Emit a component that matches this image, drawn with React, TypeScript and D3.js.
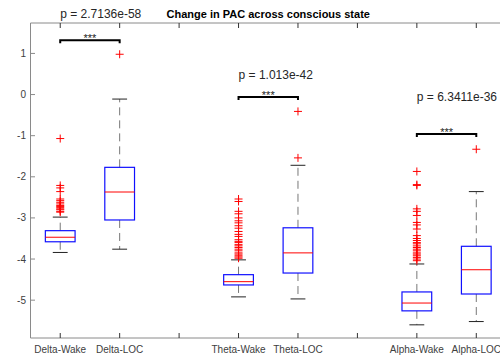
import * as d3 from 'd3';

// categories along the x axis (blank slots separate the bands)
const categories = ['Delta-Wake', 'Delta-LOC', '', 'Theta-Wake', 'Theta-LOC', '', 'Alpha-Wake', 'Alpha-LOC'];
const yTicks = [-5, -4, -3, -2, -1, 0, 1];

// box statistics per group
const groupNames = ['Delta-Wake', 'Delta-LOC', 'Theta-Wake', 'Theta-LOC', 'Alpha-Wake', 'Alpha-LOC'];
const q1 = [-3.58, -3.05, -4.63, -4.34, -5.26, -4.85];
const median = [-3.47, -2.37, -4.55, -3.85, -5.07, -4.26];
const q3 = [-3.31, -1.77, -4.38, -3.24, -4.8, -3.69];
const whiskerLow = [-3.84, -3.76, -4.92, -4.97, -5.6, -5.52];
const whiskerHigh = [-2.98, -0.11, -4.02, -1.72, -4.12, -2.36];

const outliersDeltaWake = [-1.07, -2.21, -2.27, -2.36, -2.54, -2.58, -2.62, -2.66, -2.7, -2.72, -2.75, -2.78, -2.8, -2.84, -2.86];
const outliersDeltaLOC = [0.98];
const outliersThetaWake = [-2.54, -2.6, -2.84, -2.9, -3.0, -3.07, -3.12, -3.19, -3.25, -3.33, -3.4, -3.45, -3.53, -3.57, -3.6, -3.65, -3.68, -3.72, -3.76, -3.8, -3.85, -3.88, -3.92, -3.95, -3.98];
const outliersThetaLOC = [-0.41, -1.54];
const outliersAlphaWake = [-1.87, -2.19, -2.21, -2.78, -2.84, -2.94, -3.11, -3.17, -3.27, -3.43, -3.5, -3.55, -3.6, -3.63, -3.68, -3.72, -3.76, -3.8, -3.85, -3.88, -3.92, -3.96, -4.0, -4.04];
const outliersAlphaLOC = [-1.33];
const outliers = [outliersDeltaWake, outliersDeltaLOC, outliersThetaWake, outliersThetaLOC, outliersAlphaWake, outliersAlphaLOC];

// significance annotations
const pairs = [['Delta-Wake', 'Delta-LOC'], ['Theta-Wake', 'Theta-LOC'], ['Alpha-Wake', 'Alpha-LOC']];
const pLabels = ['p = 2.7136e-58', 'p = 1.013e-42', 'p = 6.3411e-36'];
const pLabelY = [1.87, 0.376, -0.15];
const bracketY = [1.323, -0.06, -0.96];

const W = 500;
const H = 356;
const left = 30.5;
const right = 506;
const top = 23;
const bottom = 338;

export default function App() {
  const x = d3.scaleLinear().domain([0.5, categories.length + 0.5]).range([left, right]);
  const y = d3.scaleLinear().domain([-5.92, 1.74]).range([bottom, top]);
  const pos = (name: string) => categories.indexOf(name) + 1;
  const halfBox = (x(1.25) - x(1));
  const halfCap = halfBox / 2;
  const axisColor = '#8a8a8a';
  const font = 'Liberation Sans, Arial, sans-serif';

  return (
    <svg width={W} height={H} style={{ position: 'fixed', left: 0, top: 0, background: '#fff' }} fontFamily={font}>
      <rect width={W} height={H} fill="#fff" />

      {/* axes box */}
      <line x1={left} x2={left} y1={top} y2={bottom} stroke={axisColor} />
      <line x1={left} x2={right} y1={top} y2={top} stroke={axisColor} />
      <line x1={left} x2={right} y1={bottom} y2={bottom} stroke={axisColor} />

      {/* y ticks */}
      {yTicks.map(t => (
        <g key={t}>
          <line x1={left} x2={left + 4.5} y1={y(t)} y2={y(t)} stroke={axisColor} />
          <text x={26} y={y(t)} dy="0.35em" textAnchor="end" fontSize={10} fill="#404040">{t}</text>
        </g>
      ))}

      {/* x ticks */}
      {categories.map((c, i) => (
        <g key={i}>
          <line x1={x(i + 1)} x2={x(i + 1)} y1={bottom} y2={bottom - 5} stroke="#333" />
          <line x1={x(i + 1)} x2={x(i + 1)} y1={top} y2={top + 5} stroke="#333" />
          <text x={x(i + 1)} y={353} textAnchor="middle" fontSize={10} fill="#404040">{c}</text>
        </g>
      ))}

      {/* boxes */}
      {groupNames.map((g, i) => {
        const cx = x(pos(g));
        return (
          <g key={g}>
            <line x1={cx} x2={cx} y1={y(q3[i])} y2={y(whiskerHigh[i])} stroke="#777" strokeDasharray="8,5" />
            <line x1={cx} x2={cx} y1={y(q1[i])} y2={y(whiskerLow[i])} stroke="#777" strokeDasharray="8,5" />
            <line x1={cx - halfCap} x2={cx + halfCap} y1={y(whiskerHigh[i])} y2={y(whiskerHigh[i])} stroke="#222" />
            <line x1={cx - halfCap} x2={cx + halfCap} y1={y(whiskerLow[i])} y2={y(whiskerLow[i])} stroke="#222" />
            <rect x={cx - halfBox} y={y(q3[i])} width={halfBox * 2} height={y(q1[i]) - y(q3[i])}
              fill="none" stroke="#1010ff" strokeWidth={1.2} />
            <line x1={cx - halfBox} x2={cx + halfBox} y1={y(median[i])} y2={y(median[i])} stroke="#ff0000" />
            {outliers[i].map((v, j) => (
              <path key={j} d={`M${cx - 4},${y(v)}H${cx + 4}M${cx},${y(v) - 4}V${y(v) + 4}`} stroke="#ff0000" fill="none" />
            ))}
          </g>
        );
      })}

      {/* significance brackets */}
      {pairs.map((p, i) => {
        const x1 = x(pos(p[0]));
        const x2 = x(pos(p[1]));
        const by = y(bracketY[i]);
        return (
          <g key={i}>
            <path d={`M${x1},${by + 3}V${by}H${x2}V${by + 3}`} fill="none" stroke="#000" strokeWidth={2} />
            <text x={(x1 + x2) / 2} y={by + 2} textAnchor="middle" fontSize={11} fill="#222">***</text>
            <text x={x1} y={y(pLabelY[i])} fontSize={12} fill="#262626">{pLabels[i]}</text>
          </g>
        );
      })}

      <text x={(left + right) / 2} y={18} textAnchor="middle" fontSize={11} fontWeight="bold" fill="#000">
        Change in PAC across conscious state
      </text>
    </svg>
  );
}
